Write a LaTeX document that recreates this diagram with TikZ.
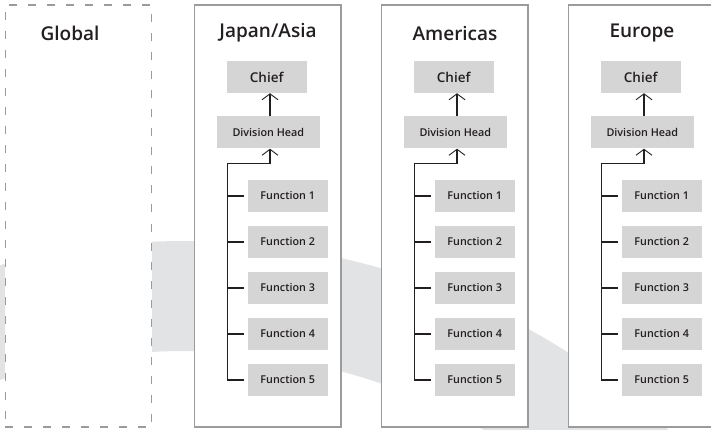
\documentclass[tikz,border=0pt]{standalone}
\usepackage{fontspec}
\setmainfont{Open Sans}
% semibold face when available, bold otherwise
\IfFontExistsTF{Open Sans SemiBold}
  {\newfontfamily\labelfont{Open Sans SemiBold}}
  {\IfFontExistsTF{Open Sans Semibold}
    {\newfontfamily\labelfont{Open Sans Semibold}}
    {\newfontfamily\labelfont{Open Sans}[UprightFont={* Bold}]}}
\usetikzlibrary{arrows.meta}
\definecolor{band}{HTML}{E2E3E5}
\definecolor{frame}{HTML}{9B9B9B}
\definecolor{cell}{HTML}{D5D5D6}
\definecolor{ink}{HTML}{231F20}
\tikzset{
  region/.style={draw=frame, line width=1.3pt, fill=white, inner sep=0pt,
    minimum width=146.5pt, minimum height=422pt},
  globalregion/.style={region, dash pattern=on 8pt off 11pt},
  title/.style={font=\labelfont\fontsize{19}{21}\selectfont, text=ink, inner sep=0pt},
  cellbox/.style={fill=cell, minimum height=32pt, inner sep=0pt, text=ink,
    font=\labelfont\fontsize{10.8}{12}\selectfont},
  chiefbox/.style={cellbox, minimum width=80pt, font=\labelfont\fontsize{13.5}{15}\selectfont},
  headbox/.style={cellbox, minimum width=103pt},
  funcbox/.style={cellbox, minimum width=80pt},
  link/.style={draw=ink, line width=1.4pt},
  uplink/.style={link, -{Straight Barb[length=6pt,width=16pt,line width=0.9pt]}}
}
\begin{document}
\begin{tikzpicture}[x=1pt, y=-1pt]
\useasboundingbox (0,0) rectangle (711,430);
\clip (0,0) rectangle (711,430);

% broad curved band in the background
\fill[band, even odd rule] (185,954) circle[radius=713] (185,954) circle[radius=603];

% global column (empty)
\node[globalregion] (glob) at (78.5,216) {};
\node[title] (glob-title) at (70,33) {Global};

% regional columns
\foreach \id/\L/\name in {ja/194.5/Japan\slash Asia, am/381.5/Americas, eu/568.5/Europe}{
  \node[region] (\id-box) at (\L+73.25,216) {};
  \node[title] (\id-title) at (\L+73.5,33) {\name};
  \node[chiefbox] (\id-chief) at (\L+72.2,77) {Chief};
  \node[headbox] (\id-head) at (\L+73.8,132.5) {Division Head};
  \coordinate (\id-ax) at (\L+75.5,0);
  \coordinate (\id-tt) at (\L+33,163.3);
  \foreach \i in {1,...,5}{
    \node[funcbox] (\id-f\i) at (\L+93.2,150+46*\i) {Function \i};
  }
  \draw[uplink] (\id-head.north -| \id-ax) -- (\id-chief.south -| \id-ax);
  \draw[uplink] ([xshift=-3.5pt]\id-f5.west) -| (\id-tt) -| (\id-head.south -| \id-ax);
  \foreach \i in {1,...,4}{
    \draw[link] ([xshift=-3.5pt]\id-f\i.west) -- (\id-f\i.west -| \id-tt);
  }
}
\end{tikzpicture}
\end{document}
